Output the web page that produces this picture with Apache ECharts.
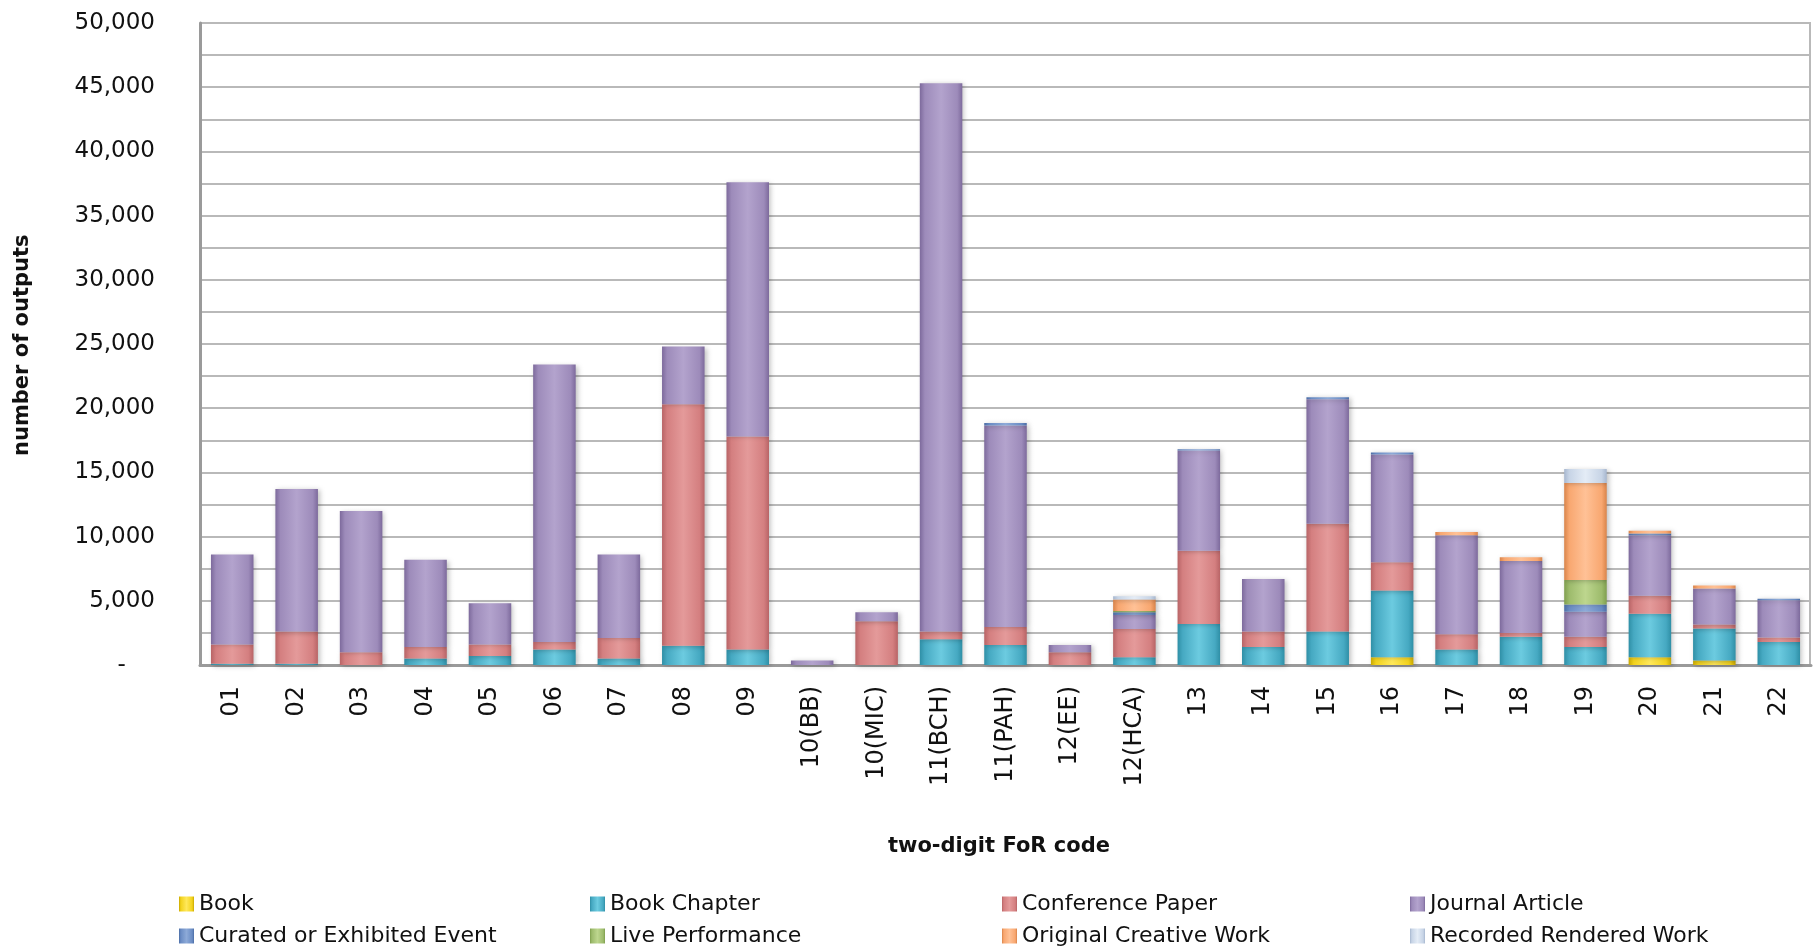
<!DOCTYPE html>
<html>
<head>
<meta charset="utf-8">
<script src="https://cdn.jsdelivr.net/npm/echarts@6/dist/echarts.min.js"></script>
<style>
html,body{margin:0;padding:0;background:#fff;}
#chart{width:1817px;height:951px;}
</style>
</head>
<body>
<div id="chart"></div>
<script>
const categories = ['01','02','03','04','05','06','07','08','09','10(BB)','10(MIC)','11(BCH)','11(PAH)','12(EE)','12(HCA)','13','14','15','16','17','18','19','20','21','22'];
const book        = [0,0,0,0,0,0,0,0,0,0,0,0,0,0,0,0,0,0,600,0,0,0,600,350,0];
const bookChapter = [100,100,0,500,700,1200,500,1500,1200,0,0,2000,1550,0,600,3200,1400,2600,5200,1200,2200,1400,3400,2500,1800];
const conference  = [1500,2500,1000,900,900,600,1600,18800,16600,0,3400,600,1400,1000,2200,5700,1200,8400,2200,1200,300,800,1400,300,350];
const journal     = [7000,11100,11000,6800,3200,21600,6500,4500,19800,350,700,42700,15700,550,1100,7800,4100,9700,8400,7700,5600,1950,4700,2800,2900];
const curated     = [0,0,0,0,0,0,0,0,0,0,0,0,200,0,200,100,0,150,150,0,0,570,150,0,100];
const live        = [0,0,0,0,0,0,0,0,0,0,0,0,0,0,100,0,0,0,0,0,0,1900,0,0,0];
const creative    = [0,0,0,0,0,0,0,0,0,0,0,0,0,0,900,0,0,0,0,250,300,7550,200,250,0];
const recorded    = [0,0,0,0,0,0,0,0,0,0,0,0,0,0,250,0,0,0,0,0,0,1100,0,0,0];

const seriesNames = ['Book','Book Chapter','Conference Paper','Journal Article','Curated or Exhibited Event','Live Performance','Original Creative Work','Recorded Rendered Work'];
const seriesData = [book, bookChapter, conference, journal, curated, live, creative, recorded];
// [dark edge, base, light centre]
const palette = [
  ['#C9A800','#F2D21C','#FFE85A'],
  ['#2F8FA6','#46A9C2','#6CCBE0'],
  ['#B86466','#D47F80','#E49A9A'],
  ['#7D6A9C','#9D8BBA','#B3A3CD'],
  ['#4C6EA6','#6A8CC4','#8DAAD8'],
  ['#7F9E4E','#9DBB6C','#BDD68E'],
  ['#D9844A','#F8A770','#FFC196'],
  ['#A7B7CF','#C7D4E6','#E4ECF6']
];
function grad(p){
  return new echarts.graphic.LinearGradient(0,0,1,0,[
    {offset:0,color:p[0]},{offset:0.12,color:p[1]},{offset:0.5,color:p[2]},
    {offset:0.88,color:p[1]},{offset:1,color:p[0]}]);
}
const chart = echarts.init(document.getElementById('chart'));
const FONT = 'DejaVu Sans';
const series = seriesNames.map((n,i)=>({
  name:n, type:'bar', stack:'total', barWidth:'66%',
  data: seriesData[i],
  itemStyle:{color:grad(palette[i]), shadowBlur:5, shadowColor:'rgba(0,0,0,0.25)', shadowOffsetX:2, shadowOffsetY:1},
  emphasis:{disabled:true}
}));
const legendLeft = [174,585,997,1405];
const legendTop = [888,920];
const legends = seriesNames.map((n,i)=>({
  left:legendLeft[i%4], top:legendTop[Math.floor(i/4)], itemWidth:15, itemHeight:15,
  icon:'rect', data:[n],
  textStyle:{fontFamily:FONT, fontSize:22, color:'#111', padding:[0,0,0,0]},
  selectedMode:false
}));
chart.setOption({
  backgroundColor:'#fff',
  animation:false,
  color: palette.map(p=>p[1]),
  grid:{left:200, right:6, top:23, bottom:286, containLabel:false},
  legend: legends,
  xAxis:{
    type:'category', data:categories,
    axisLine:{show:true, lineStyle:{color:'#9a9a9a', width:3}},
    axisTick:{show:false},
    axisLabel:{rotate:90, margin:21, fontFamily:FONT, fontSize:24, color:'#111', interval:0},
    splitLine:{show:false}
  },
  yAxis:{
    type:'value', min:0, max:50000, interval:2500,
    axisLine:{show:true, lineStyle:{color:'#9a9a9a', width:3}},
    axisTick:{show:false},
    axisLabel:{margin:45, fontFamily:FONT, fontSize:23, color:'#111',
      formatter:v=> v%5000!==0 ? '' : (v===0 ? '-    ' : v.toLocaleString('en-US'))},
    splitLine:{show:true, lineStyle:{color:'#b9b9b9', width:2}}
  },
  graphic:[
    {type:'text', left:1002-114, top:836, style:{text:'two-digit FoR code', fontFamily:FONT, fontWeight:'bold', fontSize:21, fill:'#111'}},
    {type:'text', x:12, y:344+112, rotation:Math.PI/2, style:{text:'number of outputs', fontFamily:FONT, fontWeight:'bold', fontSize:21, fill:'#111'}},
    {type:'rect', shape:{x:1809, y:23, width:2, height:642}, style:{fill:'#b9b9b9'}}
  ],
  series: series
});
</script>
</body>
</html>
